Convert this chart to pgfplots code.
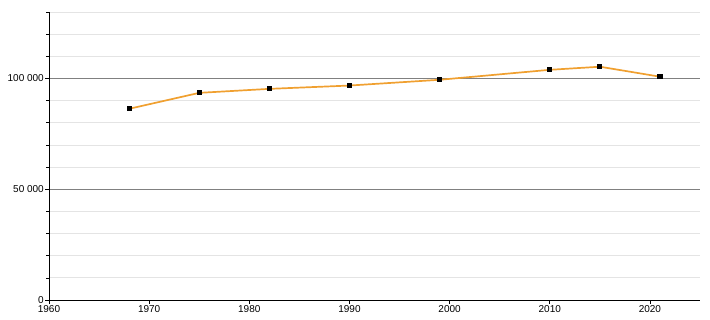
\documentclass[border=0pt]{standalone}
\usepackage{fontspec}
\setmainfont{Liberation Sans}
\usepackage{pgfplots}
\pgfplotsset{compat=1.18}
\definecolor{lineor}{HTML}{F0A030}
\definecolor{majgrid}{HTML}{808080}
\definecolor{mingrid}{HTML}{E4E4E4}
\begin{document}
\begin{tikzpicture}
\begin{axis}[
  scale only axis, width=651pt, height=288pt,
  xmin=1960, xmax=2025, ymin=0, ymax=130000,
  axis x line*=bottom, axis y line*=left,
  axis line style={black, line width=0.8pt},
  xtick={1960,1970,...,2020},
  xticklabels={1960,1970,1980,1990,2000,2010,2020},
  ytick={0,50000,100000},
  yticklabels={0,50 000,100 000},
  minor ytick={10000,20000,30000,40000,60000,70000,80000,90000,110000,120000,130000},
  ymajorgrids, yminorgrids,
  major grid style={majgrid, line width=0.8pt},
  minor grid style={mingrid, line width=0.8pt},
  tick align=outside, major tick length=4pt, minor tick length=3pt,
  tick style={black, line width=0.6pt},
  scaled y ticks=false,
  tick label style={font=\fontsize{10}{12}\selectfont},
  xticklabel style={inner sep=1pt},
  yticklabel style={inner sep=1pt},
  clip=false,
]
\addplot[lineor, line width=1.7pt, mark=square*, mark size=2.1pt,
  mark options={black, fill=black, line width=0pt}]
  coordinates {
  (1968,86300) (1975,93500) (1982,95300) (1990,96800)
  (1999,99400) (2010,103900) (2015,105300) (2021,100800)
  };
\end{axis}
\path[use as bounding box] ([shift={(-49pt,-20pt)}]current axis.south west) rectangle ([shift={(10pt,12pt)}]current axis.north east);
\end{tikzpicture}
\end{document}
